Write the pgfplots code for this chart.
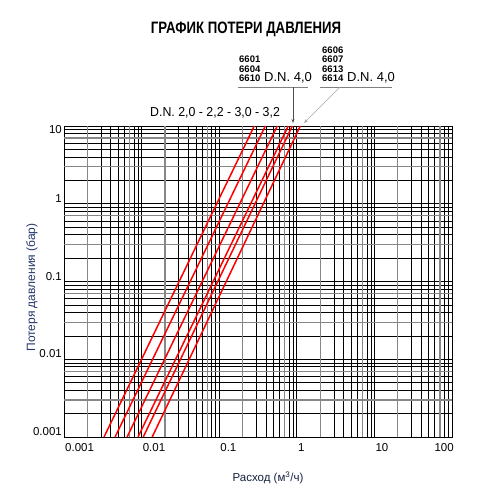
\documentclass[border=0pt]{standalone}
\usepackage{fontspec}
\setmainfont{Liberation Sans}
\usepackage{graphicx}
\usepackage{pgfplots}
\pgfplotsset{compat=1.18}
\usetikzlibrary{arrows.meta}
\definecolor{gridgray}{RGB}{135,135,135}
\definecolor{navy}{RGB}{35,55,105}
\begin{document}
\begin{tikzpicture}[x=1pt,y=1pt]
\path[use as bounding box] (0,0) rectangle (494,502);
\begin{axis}[
  at={(64pt,65pt)}, anchor=south west,
  scale only axis, width=388pt, height=311pt,
  xmode=log, ymode=log,
  xmin=0.001, xmax=100, ymin=0.001, ymax=10,
  xtick={0.001,0.01,0.1,1,10,100},
  xticklabels={0.001,0.01,0.1,1,10,\llap{100}},
  ytick={0.001,0.01,0.1,1,10},
  yticklabels={0.001,0.01,0.1,1,\smash{\raisebox{-1.1\height}{10}}},
  minor xtick={0.003,0.004,0.005,0.006,0.008,0.009,0.03,0.04,0.05,0.06,0.08,0.09,0.3,0.4,0.5,0.6,0.8,0.9,3,4,5,6,8,9,30,40,50,60,80,90},
  minor ytick={0.002,0.004,0.005,0.006,0.008,0.009,0.02,0.04,0.05,0.06,0.08,0.09,0.2,0.4,0.5,0.6,0.8,0.9,2,4,5,6,8,9},
  extra x ticks={0.002,0.007,0.02,0.07,0.2,0.7,2,7,20,70},
  extra x tick labels={},
  extra y ticks={0.003,0.007,0.03,0.07,0.3,0.7,3,7},
  extra y tick labels={},
  extra tick style={grid=major, major grid style={gridgray, line width=1.3pt}},
  grid=both,
  major grid style={black, line width=0.8pt},
  minor grid style={black, line width=0.6pt},
  tick style={draw=none},
  /pgf/number format/assume math mode=true,
  xticklabel style={anchor=north west, inner sep=0pt, xshift=1pt, yshift=-6pt, font=\fontsize{11.5}{12}\selectfont},
  yticklabel style={anchor=south east, inner sep=0pt, xshift=-2pt, yshift=1pt, font=\fontsize{11.5}{12}\selectfont},
  axis line style={black, line width=0.8pt},
]
\addplot[red, line width=1.5pt] coordinates {(0.00328,0.001) (0.283,10)};
\addplot[red, line width=1.5pt] coordinates {(0.00455,0.001) (0.393,10)};
\addplot[red, line width=1.5pt] coordinates {(0.0065,0.001) (0.56,10)};
\addplot[red, line width=1.5pt] coordinates {(0.0090,0.001) (0.776,10)};
\addplot[red, line width=1.5pt] coordinates {(0.0105,0.001) (0.875,10)};
\addplot[red, line width=1.5pt] coordinates {(0.0137,0.001) (1.11,10)};
\end{axis}
% title
\node[font=\bfseries\fontsize{16.5}{17}\selectfont] at (246,473) {\scalebox{0.8}[1]{ГРАФИК ПОТЕРИ ДАВЛЕНИЯ}};
% block 1
\node[anchor=base west, inner sep=0pt, font=\bfseries\fontsize{9.5}{10}\selectfont] at (239,439) {6601};
\node[anchor=base west, inner sep=0pt, font=\bfseries\fontsize{9.5}{10}\selectfont] at (239,429.7) {6604};
\node[anchor=base west, inner sep=0pt, font=\bfseries\fontsize{9.5}{10}\selectfont] at (239,420.3) {6610};
\node[anchor=base west, inner sep=0pt, font=\fontsize{13}{14}\selectfont] at (264,420.3) {D.N. 4,0};
\draw[gray, line width=0.7pt] (238,415) -- (308,415);
\draw[black!70, line width=0.6pt, -{Stealth[length=4pt,width=3pt]}] (293,415) -- (293,379);
% block 2
\node[anchor=base west, inner sep=0pt, font=\bfseries\fontsize{9.5}{10}\selectfont] at (322,448) {6606};
\node[anchor=base west, inner sep=0pt, font=\bfseries\fontsize{9.5}{10}\selectfont] at (322,439) {6607};
\node[anchor=base west, inner sep=0pt, font=\bfseries\fontsize{9.5}{10}\selectfont] at (322,429.7) {6613};
\node[anchor=base west, inner sep=0pt, font=\bfseries\fontsize{9.5}{10}\selectfont] at (322,420.3) {6614};
\node[anchor=base west, inner sep=0pt, font=\fontsize{13}{14}\selectfont] at (347,420.3) {D.N. 4,0};
\draw[gray, line width=0.7pt] (320,415) -- (392,415);
\draw[black!35, line width=0.6pt, -{Stealth[length=4pt,width=3pt]}] (340,415) -- (304,379);
% DN text
\node[anchor=base west, inner sep=0pt, font=\fontsize{13}{14}\selectfont] at (150,385.3) {\scalebox{0.95}[1]{D.N. 2,0 - 2,2 - 3,0 - 3,2}};
% axis labels
\node[rotate=90, text=navy, font=\fontsize{12}{13}\selectfont] at (32,214.5) {Потеря давления (бар)};
\node[text=navy!60!black, font=\fontsize{11.5}{12}\selectfont] at (268,24) {Расход (м\textsuperscript{3}/ч)};
\end{tikzpicture}
\end{document}
